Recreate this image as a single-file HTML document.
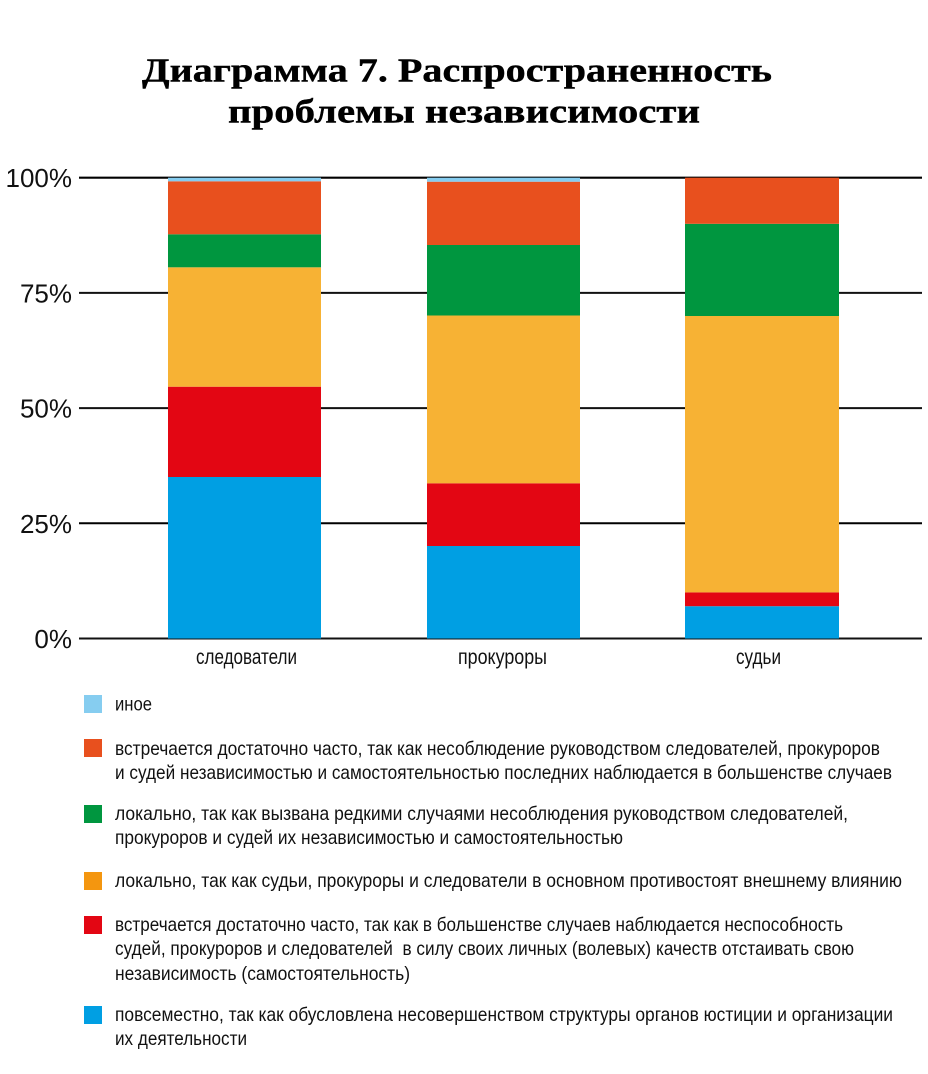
<!DOCTYPE html>
<html>
<head>
<meta charset="utf-8">
<style>
  html, body { margin: 0; padding: 0; background: #ffffff; }
  svg { display: block; }
  .t { font-family: "Liberation Serif", "Noto Serif CJK SC", serif; font-weight: bold; fill: #000; }
  .s { font-family: "Liberation Sans", "Noto Sans CJK SC", sans-serif; fill: #111; }
</style>
</head>
<body>
<svg width="928" height="1074" viewBox="0 0 928 1074" xmlns="http://www.w3.org/2000/svg">
  <rect x="0" y="0" width="928" height="1074" fill="#ffffff"/>

  <!-- Title -->
  <text class="t" x="142" y="81.5" font-size="34" textLength="630" lengthAdjust="spacingAndGlyphs" stroke="#000" stroke-width="0.4">Диаграмма 7. Распространенность</text>
  <text class="t" x="228" y="122.5" font-size="34" textLength="472" lengthAdjust="spacingAndGlyphs" stroke="#000" stroke-width="0.4">проблемы независимости</text>

  <!-- Gridlines -->
  <line x1="79" y1="177.7" x2="922" y2="177.7" stroke="#000" stroke-width="2.2"/>
  <line x1="79" y1="292.9" x2="922" y2="292.9" stroke="#111" stroke-width="2"/>
  <line x1="79" y1="408.1" x2="922" y2="408.1" stroke="#111" stroke-width="2"/>
  <line x1="79" y1="523.3" x2="922" y2="523.3" stroke="#000" stroke-width="2"/>
  <line x1="79" y1="638.5" x2="922" y2="638.5" stroke="#111" stroke-width="2"/>

  <!-- Tick labels -->
  <text class="s" x="72" y="187" font-size="26" text-anchor="end">100%</text>
  <text class="s" x="72" y="302.5" font-size="26" text-anchor="end">75%</text>
  <text class="s" x="72" y="417.5" font-size="26" text-anchor="end">50%</text>
  <text class="s" x="72" y="533" font-size="26" text-anchor="end">25%</text>
  <text class="s" x="72" y="648" font-size="26" text-anchor="end">0%</text>

  <!-- Bar 1: следователи -->
  <rect x="168" y="477" width="153" height="161.5" fill="#009fe3"/>
  <rect x="168" y="386.7" width="153" height="90.3" fill="#e30613"/>
  <rect x="168" y="267.3" width="153" height="119.4" fill="#f7b234"/>
  <rect x="168" y="234.3" width="153" height="33" fill="#00963f"/>
  <rect x="168" y="181.3" width="153" height="53" fill="#e8501e"/>
  <rect x="168" y="177.7" width="153" height="3.6" fill="#86cdf0"/>

  <!-- Bar 2: прокуроры -->
  <rect x="427" y="546" width="153" height="92.5" fill="#009fe3"/>
  <rect x="427" y="483.3" width="153" height="62.7" fill="#e30613"/>
  <rect x="427" y="315.5" width="153" height="167.8" fill="#f7b234"/>
  <rect x="427" y="245" width="153" height="70.5" fill="#00963f"/>
  <rect x="427" y="181.7" width="153" height="63.3" fill="#e8501e"/>
  <rect x="427" y="177.7" width="153" height="4" fill="#86cdf0"/>

  <!-- Bar 3: судьи -->
  <rect x="685" y="606.2" width="154" height="32.3" fill="#009fe3"/>
  <rect x="685" y="592.4" width="154" height="13.8" fill="#e30613"/>
  <rect x="685" y="316" width="154" height="276.4" fill="#f7b234"/>
  <rect x="685" y="223.8" width="154" height="92.2" fill="#00963f"/>
  <rect x="685" y="177.7" width="154" height="46.1" fill="#e8501e"/>

  <!-- Category labels -->
  <text class="s" x="196" y="664" font-size="21" textLength="101" lengthAdjust="spacingAndGlyphs">следователи</text>
  <text class="s" x="458" y="664" font-size="21" textLength="89" lengthAdjust="spacingAndGlyphs">прокуроры</text>
  <text class="s" x="736" y="664" font-size="21" textLength="45" lengthAdjust="spacingAndGlyphs">судьи</text>

  <!-- Legend -->
  <rect x="84" y="695" width="18" height="18" fill="#86cdf0"/>
  <text class="s" x="115" y="710.5" font-size="19.5" textLength="37" lengthAdjust="spacingAndGlyphs">иное</text>

  <rect x="84" y="739" width="18" height="18" fill="#e8501e"/>
  <text class="s" x="115" y="755" font-size="19.5" textLength="765" lengthAdjust="spacingAndGlyphs">встречается достаточно часто, так как несоблюдение руководством следователей, прокуроров</text>
  <text class="s" x="115" y="779" font-size="19.5" textLength="777" lengthAdjust="spacingAndGlyphs">и судей независимостью и самостоятельностью последних наблюдается в большенстве случаев</text>

  <rect x="84" y="805" width="18" height="18" fill="#00963f"/>
  <text class="s" x="115" y="820" font-size="19.5" textLength="733" lengthAdjust="spacingAndGlyphs">локально, так как вызвана редкими случаями несоблюдения руководством следователей,</text>
  <text class="s" x="115" y="844" font-size="19.5" textLength="508" lengthAdjust="spacingAndGlyphs">прокуроров и судей их независимостью и самостоятельностью</text>

  <rect x="84" y="872" width="18" height="18" fill="#f4960f"/>
  <text class="s" x="115" y="887" font-size="19.5" textLength="787" lengthAdjust="spacingAndGlyphs">локально, так как судьи, прокуроры и следователи в основном противостоят внешнему влиянию</text>

  <rect x="84" y="916" width="18" height="18" fill="#e30613"/>
  <text class="s" x="115" y="931" font-size="19.5" textLength="728" lengthAdjust="spacingAndGlyphs">встречается достаточно часто, так как в большенстве случаев наблюдается неспособность</text>
  <text class="s" x="115" y="955" font-size="19.5" textLength="739" lengthAdjust="spacingAndGlyphs">судей, прокуроров и следователей &#160;в силу своих личных (волевых) качеств отстаивать свою</text>
  <text class="s" x="115" y="980" font-size="19.5" textLength="295" lengthAdjust="spacingAndGlyphs">независимость (самостоятельность)</text>

  <rect x="84" y="1006" width="18" height="18" fill="#009fe3"/>
  <text class="s" x="115" y="1021" font-size="19.5" textLength="778" lengthAdjust="spacingAndGlyphs">повсеместно, так как обусловлена несовершенством структуры органов юстиции и организации</text>
  <text class="s" x="115" y="1045" font-size="19.5" textLength="132" lengthAdjust="spacingAndGlyphs">их деятельности</text>
</svg>
</body>
</html>
